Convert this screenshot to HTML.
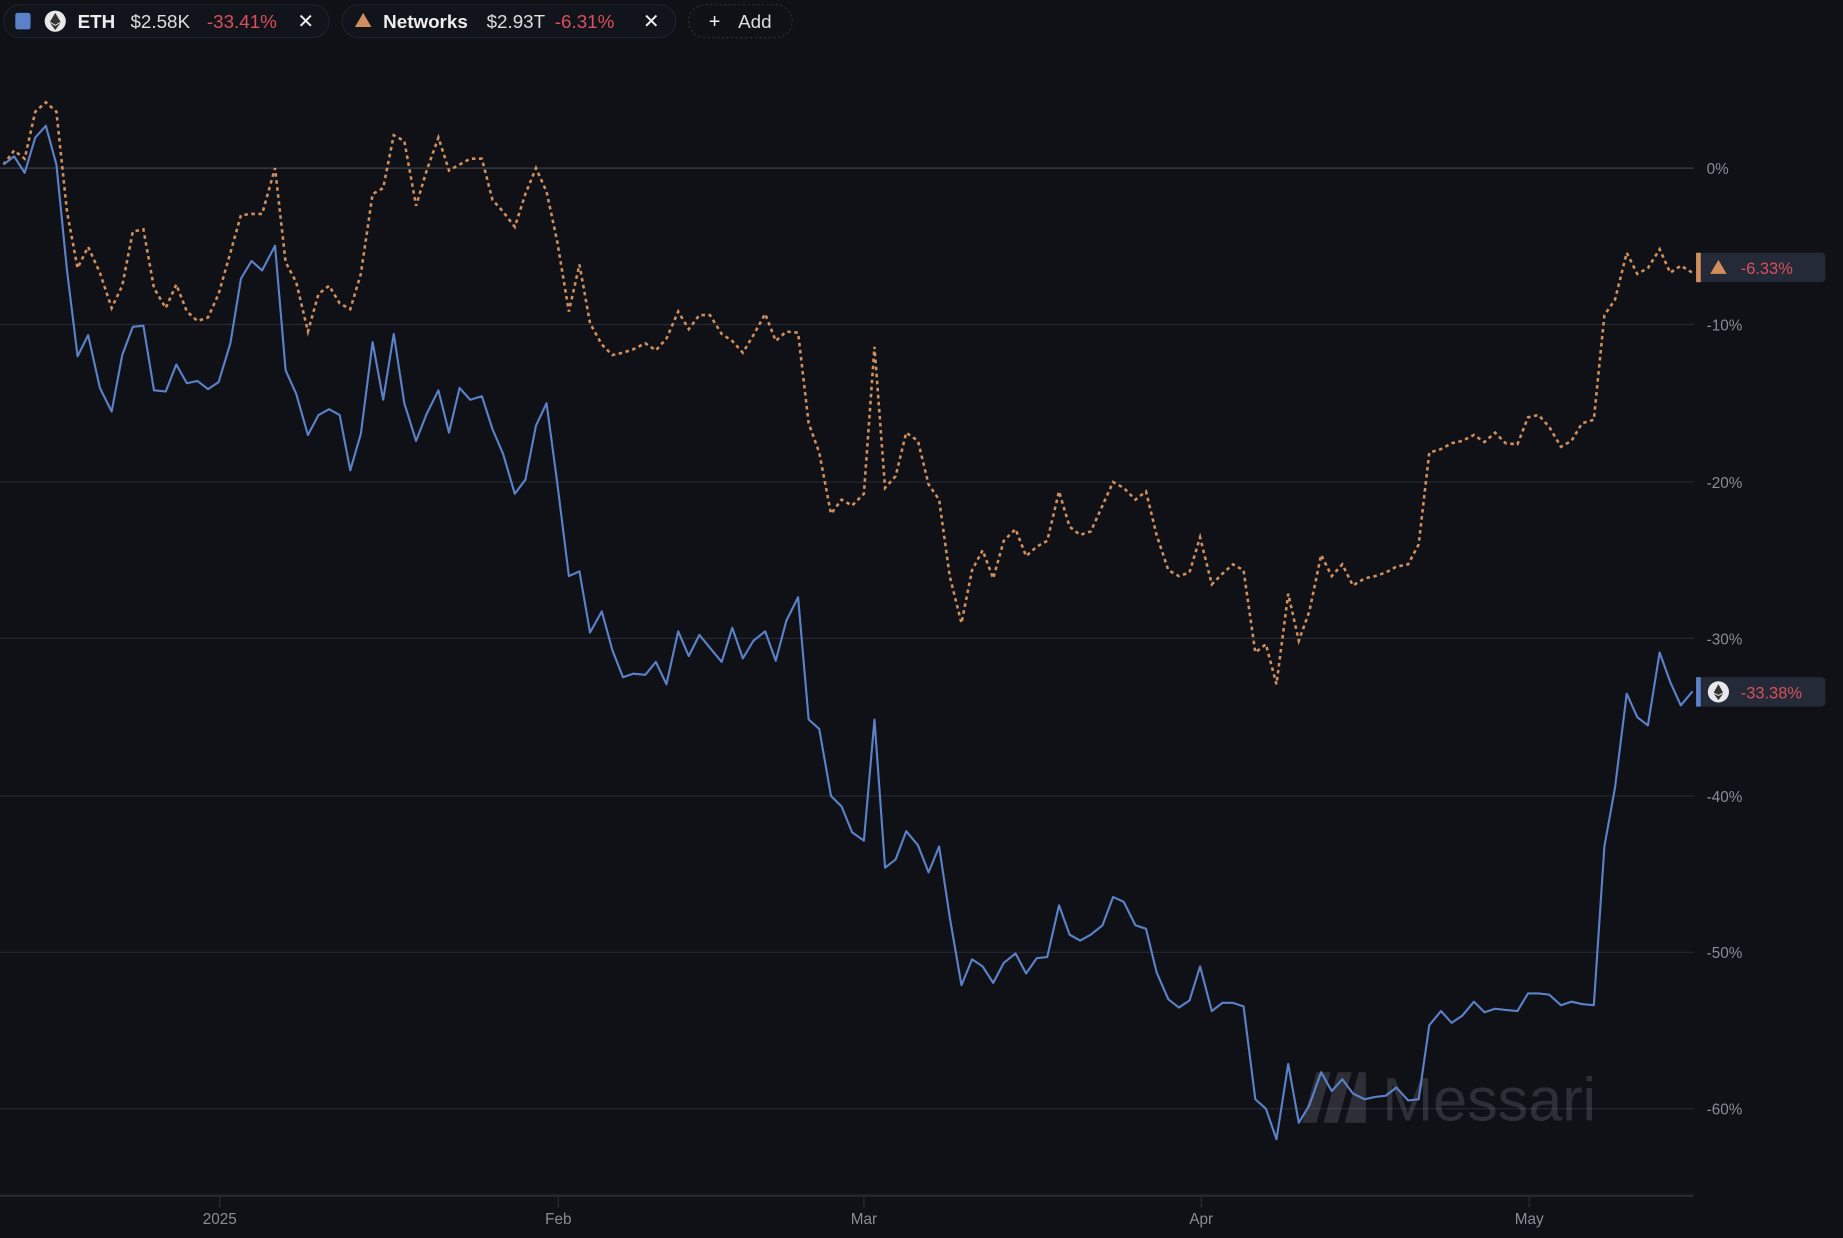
<!DOCTYPE html>
<html><head><meta charset="utf-8"><style>
html,body{margin:0;padding:0;background:#101117;overflow:hidden}
svg{display:block}
text{font-family:"Liberation Sans",sans-serif}
</style></head><body>
<svg width="1843" height="1238" viewBox="0 0 1568 1053" preserveAspectRatio="none">
<rect width="1568" height="1053" fill="#101117"/>
<!-- legend -->
<rect x="3" y="4" width="277" height="28" rx="14" fill="#12141b" stroke="#1e212a"/>
<rect x="13" y="11" width="13" height="14" rx="2" fill="#5b82c9"/>
<circle cx="47" cy="18" r="9" fill="#e8e8ea"/>
<path d="M47 11 L51.5 18.5 L47 21 L42.5 18.5Z M47 22 L51.5 19.5 L47 25.5 L42.5 19.5Z" fill="#333"/>
<text x="66" y="24" font-size="16" font-weight="bold" fill="#eee">ETH</text>
<text x="111" y="24" font-size="16" fill="#ddd">$2.58K</text>
<text x="176" y="24" font-size="16" fill="#d9505c">-33.41%</text>
<text x="253" y="24" font-size="17" fill="#eee">✕</text>
<rect x="291" y="4" width="284" height="28" rx="14" fill="#12141b" stroke="#1e212a"/>
<path d="M309 11 L316 23 L302 23Z" fill="#d08f5c"/>
<text x="326" y="24" font-size="16" font-weight="bold" fill="#eee">Networks</text>
<text x="414" y="24" font-size="16" fill="#ddd">$2.93T</text>
<text x="472" y="24" font-size="16" fill="#d9505c">-6.31%</text>
<text x="547" y="24" font-size="17" fill="#eee">✕</text>
<rect x="586" y="4" width="88" height="28" rx="14" fill="#101117" stroke="#2a2d36" stroke-dasharray="2 2"/>
<text x="603" y="24" font-size="17" fill="#eee">+</text>
<text x="628" y="24" font-size="16" fill="#ddd">Add</text>
<!-- grid -->
<g stroke="#262932" stroke-width="1">
<line x1="0" y1="143" x2="1441" y2="143" stroke="#3a3d46"/>
<line x1="0" y1="276" x2="1441" y2="276"/>
<line x1="0" y1="410" x2="1441" y2="410"/>
<line x1="0" y1="543" x2="1441" y2="543"/>
<line x1="0" y1="677" x2="1441" y2="677"/>
<line x1="0" y1="810" x2="1441" y2="810"/>
<line x1="0" y1="943" x2="1441" y2="943"/>
</g>
<line x1="0" y1="1017" x2="1441" y2="1017" stroke="#262932" stroke-width="2"/>
<g stroke="#2a2d36"><line x1="187" y1="1018" x2="187" y2="1027"/><line x1="475" y1="1018" x2="475" y2="1027"/><line x1="735" y1="1018" x2="735" y2="1027"/><line x1="1022" y1="1018" x2="1022" y2="1027"/><line x1="1301" y1="1018" x2="1301" y2="1027"/></g>
<g font-size="13" fill="#8a8d96">
<text x="1452" y="148">0%</text><text x="1452" y="281">-10%</text><text x="1452" y="415">-20%</text><text x="1452" y="548">-30%</text><text x="1452" y="682">-40%</text><text x="1452" y="815">-50%</text><text x="1452" y="948">-60%</text>
</g>
<g font-size="13" fill="#8a8d96" text-anchor="middle">
<text x="187" y="1041">2025</text><text x="475" y="1041">Feb</text><text x="735" y="1041">Mar</text><text x="1022" y="1041">Apr</text><text x="1301" y="1041">May</text>
</g>
<!-- watermark -->
<g opacity="0.22" fill="#9a9ca4">
<path d="M1108 955 L1120 912 L1132 912 L1120 955Z M1126 955 L1138 912 L1150 912 L1138 955Z M1144 955 L1156 912 L1162 912 L1162 955Z"/>
<text x="1176" y="953" font-size="52">Messari</text>
</g>
<!-- series -->
<polyline fill="none" stroke="#d08f5c" stroke-width="2.2" stroke-dasharray="3 3" points="3,140 12,128 21,135 30,95 39,87 48,95 57,180 66,228 75,210 85,232 95,262 104,243 113,197 122,195 131,245 141,262 150,242 159,265 168,273 177,270 186,250 196,215 205,183 214,182 223,182 234,143 243,223 252,240 262,282 271,250 280,243 289,258 298,263 307,233 317,165 326,160 335,115 344,120 354,175 363,145 373,117 382,145 391,140 400,135 410,135 419,170 428,180 438,193 447,165 456,143 465,163 474,205 484,265 493,225 502,275 512,293 521,302 530,300 539,297 549,292 558,298 567,288 577,265 586,280 595,268 604,268 614,284 623,290 632,300 641,285 651,267 660,290 669,282 679,283 688,360 697,385 707,437 716,425 725,430 735,420 744,295 753,415 762,405 771,368 781,375 790,412 799,425 808,490 818,530 827,485 836,468 845,492 854,460 864,450 873,473 882,465 891,460 901,418 910,448 919,455 928,452 938,430 947,410 956,415 966,425 975,418 984,455 994,485 1003,490 1012,487 1021,457 1031,497 1040,488 1049,480 1058,485 1068,555 1077,548 1086,582 1096,505 1105,545 1114,520 1124,472 1133,490 1142,480 1151,498 1161,492 1170,490 1179,487 1188,482 1198,480 1207,463 1216,385 1226,382 1235,377 1244,375 1254,370 1263,376 1272,368 1281,377 1291,378 1300,355 1309,353 1318,363 1328,380 1337,375 1346,360 1356,357 1365,268 1374,255 1384,215 1393,233 1402,228 1412,212 1421,232 1430,226 1440,232"/>
<polyline fill="none" stroke="#5b82c9" stroke-width="1.8" stroke-linejoin="round" points="3,140 12,133 21,147 30,117 39,107 48,140 57,230 66,303 75,285 85,330 95,350 104,302 113,278 122,277 131,332 141,333 150,310 159,326 168,324 177,331 186,325 196,292 205,237 214,222 223,230 234,209 243,315 252,335 262,370 271,353 280,348 289,353 298,400 307,369 317,291 326,340 335,284 344,343 354,375 363,352 373,332 382,368 391,330 400,340 410,337 419,365 428,386 438,420 447,408 456,362 465,343 474,410 484,490 493,486 502,538 512,520 521,553 530,576 539,573 549,574 558,563 567,582 577,537 586,558 595,540 604,551 614,563 623,534 632,560 641,545 651,537 660,562 669,528 679,508 688,612 697,620 707,677 716,686 725,708 735,715 744,612 753,738 762,731 771,707 781,719 790,742 799,720 808,780 818,838 827,816 836,822 845,836 854,819 864,811 873,828 882,815 891,814 901,770 910,795 919,800 928,795 938,787 947,763 956,767 966,787 975,790 984,827 994,850 1003,857 1012,851 1021,822 1031,860 1040,853 1049,853 1058,856 1068,935 1077,943 1086,969 1096,905 1105,955 1114,940 1124,912 1133,928 1142,918 1151,930 1161,935 1170,933 1179,932 1188,925 1198,936 1207,935 1216,872 1226,860 1235,870 1244,864 1254,852 1263,861 1272,858 1281,859 1291,860 1300,845 1309,845 1318,846 1328,855 1337,852 1346,854 1356,855 1365,720 1374,670 1384,590 1393,610 1402,617 1412,555 1421,580 1430,600 1440,588"/>
<!-- tags -->
<rect x="1443" y="215" width="110" height="25" rx="3" fill="#252a38"/>
<rect x="1443" y="215" width="4" height="25" fill="#d08f5c"/>
<path d="M1462 221 L1469 233 L1455 233Z" fill="#d08f5c"/>
<text x="1481" y="233" font-size="14" fill="#d9505c">-6.33%</text>
<rect x="1443" y="576" width="110" height="25" rx="3" fill="#252a38"/>
<rect x="1443" y="576" width="4" height="25" fill="#5b82c9"/>
<circle cx="1462" cy="588.5" r="9" fill="#e8e8ea"/>
<path d="M1462 582 L1466 589 L1462 591 L1458 589Z M1462 592 L1466 590 L1462 595.5 L1458 590Z" fill="#333"/>
<text x="1481" y="594" font-size="14" fill="#d9505c">-33.38%</text>
</svg>
</body></html>
